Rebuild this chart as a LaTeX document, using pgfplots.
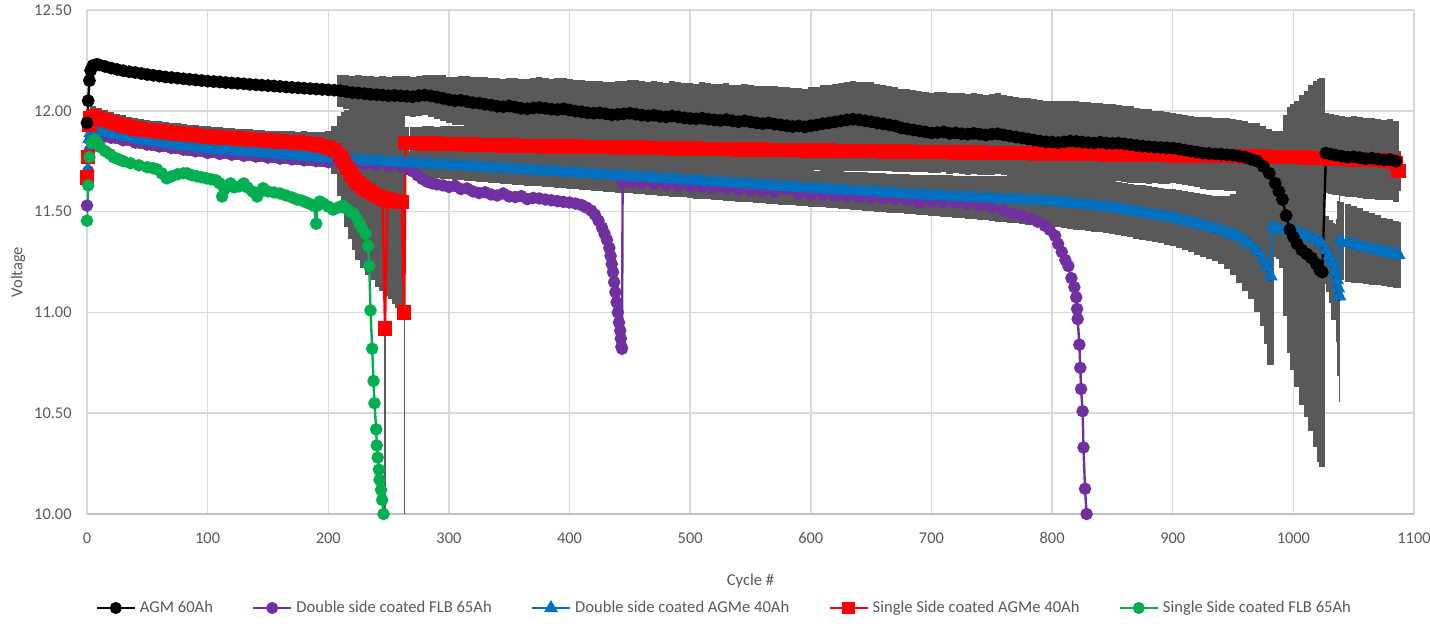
\documentclass[border=0pt]{standalone}
\usepackage{pgfplots}
\usepackage{pgfplotstable}
\usepackage{fontspec}
\setmainfont{Carlito}
\pgfplotsset{compat=1.18}
\definecolor{cblack}{HTML}{000000}
\definecolor{cpurple}{HTML}{7030A0}
\definecolor{cblue}{HTML}{0070C0}
\definecolor{cred}{HTML}{FF0000}
\definecolor{cgreen}{HTML}{00B050}
\definecolor{errgray}{HTML}{595959}
\definecolor{gridgray}{HTML}{D9D9D9}
\definecolor{axgray}{HTML}{BFBFBF}
\definecolor{txtgray}{HTML}{595959}

% AGM 60Ah: x, voltage, error (+/-)
\pgfplotstableread{
x y e
0 11.94 0
1 12.05 0
2 12.15 0
3 12.20 0
5 12.225 0
8 12.23 0
10 12.228 0
15 12.22 0
20 12.212 0
25 12.205 0
30 12.199 0
35 12.194 0
40 12.19 0
45 12.185 0
50 12.18 0
55 12.176 0
60 12.172 0
65 12.168 0
70 12.165 0
75 12.162 0
80 12.159 0
85 12.156 0
90 12.153 0
95 12.15 0
100 12.147 0
105 12.145 0
110 12.143 0
115 12.14 0
120 12.138 0
125 12.136 0
130 12.134 0
135 12.131 0
140 12.129 0
145 12.127 0
150 12.125 0
155 12.123 0
160 12.121 0
165 12.118 0
170 12.116 0
175 12.114 0
180 12.112 0
185 12.11 0
190 12.108 0
195 12.106 0
200 12.104 0
205 12.102 0
210 12.10 0.08
215 12.095 0.085
220 12.09 0.085
225 12.088 0.09
230 12.085 0.09
235 12.082 0.09
240 12.08 0.09
245 12.078 0.095
250 12.075 0.095
255 12.076 0.095
260 12.074 0.1
265 12.072 0.1
270 12.07 0.1
275 12.075 0.1
280 12.078 0.1
285 12.074 0.105
290 12.068 0.11
295 12.062 0.115
300 12.055 0.115
305 12.05 0.12
310 12.052 0.12
315 12.046 0.125
320 12.04 0.13
325 12.038 0.13
330 12.032 0.135
335 12.028 0.135
340 12.022 0.14
345 12.02 0.14
350 12.024 0.14
355 12.018 0.145
360 12.012 0.145
365 12.01 0.15
370 12.014 0.15
375 12.016 0.15
380 12.012 0.15
385 12.008 0.15
390 12.006 0.155
395 12.01 0.155
400 12.004 0.155
405 11.998 0.155
410 11.995 0.16
415 11.99 0.16
420 11.988 0.16
425 11.99 0.16
430 11.985 0.16
435 11.98 0.165
440 11.982 0.165
445 11.985 0.165
450 11.988 0.165
455 11.983 0.17
460 11.978 0.17
465 11.975 0.17
470 11.978 0.17
475 11.972 0.17
480 11.97 0.17
485 11.974 0.175
490 11.97 0.175
495 11.965 0.175
500 11.962 0.175
505 11.96 0.175
510 11.963 0.18
515 11.958 0.18
520 11.955 0.18
525 11.952 0.18
530 11.956 0.18
535 11.95 0.18
540 11.946 0.18
545 11.95 0.185
550 11.945 0.185
555 11.94 0.185
560 11.936 0.185
565 11.94 0.185
570 11.934 0.19
575 11.93 0.19
580 11.926 0.19
585 11.922 0.19
590 11.925 0.19
595 11.92 0.19
600 11.926 0.19
605 11.93 0.19
610 11.936 0.19
615 11.94 0.19
620 11.945 0.19
625 11.95 0.19
630 11.955 0.19
635 11.958 0.19
640 11.955 0.19
645 11.95 0.195
650 11.946 0.195
655 11.94 0.195
660 11.935 0.195
665 11.93 0.195
670 11.925 0.195
675 11.915 0.195
680 11.91 0.2
685 11.905 0.2
690 11.9 0.2
695 11.895 0.2
700 11.89 0.2
705 11.892 0.2
710 11.895 0.2
715 11.888 0.2
720 11.89 0.2
725 11.886 0.2
730 11.884 0.2
735 11.888 0.2
740 11.884 0.2
745 11.88 0.2
750 11.884 0.2
755 11.886 0.2
760 11.88 0.2
765 11.875 0.2
770 11.87 0.2
775 11.865 0.2
780 11.86 0.205
785 11.855 0.205
790 11.85 0.205
795 11.846 0.205
800 11.845 0.205
805 11.842 0.205
810 11.846 0.205
815 11.85 0.2
820 11.848 0.2
825 11.845 0.2
830 11.842 0.2
835 11.84 0.2
840 11.844 0.195
845 11.84 0.195
850 11.838 0.195
855 11.84 0.19
860 11.836 0.19
865 11.832 0.19
870 11.828 0.185
875 11.825 0.185
880 11.822 0.185
885 11.82 0.18
890 11.818 0.18
895 11.816 0.18
900 11.815 0.175
905 11.81 0.175
910 11.805 0.175
915 11.8 0.175
920 11.795 0.175
925 11.79 0.18
930 11.788 0.18
935 11.786 0.18
940 11.785 0.18
945 11.782 0.18
950 11.78 0.18
955 11.775 0.18
960 11.77 0.18
965 11.76 0.18
970 11.75 0.19
975 11.725 0.2
980 11.69 0.22
985 11.64 0.26
988 11.6 0.3
991 11.56 0.34
994 11.48 0.5
997 11.41 0.61
1000 11.375 0.66
1003 11.34 0.71
1007 11.31 0.77
1011 11.29 0.81
1015 11.27 0.86
1019 11.24 0.91
1022 11.21 0.95
1024 11.20 0.965
1027 11.79 0.2
1031 11.785 0.2
1035 11.78 0.2
1040 11.775 0.2
1045 11.77 0.2
1050 11.772 0.2
1055 11.768 0.2
1060 11.762 0.2
1065 11.765 0.2
1070 11.76 0.2
1075 11.756 0.2
1080 11.758 0.2
1085 11.75 0.2
}\blackT

% Single Side coated AGMe 40Ah
\pgfplotstableread{
x y e
0 11.67 0.02
1 11.77 0.02
2 11.93 0.03
3 11.965 0.04
5 11.975 0.05
10 11.965 0.05
15 11.955 0.05
20 11.945 0.05
25 11.935 0.05
30 11.927 0.05
35 11.92 0.05
40 11.913 0.05
45 11.908 0.05
50 11.904 0.05
55 11.9 0.05
60 11.897 0.05
65 11.894 0.05
70 11.891 0.05
75 11.888 0.05
80 11.885 0.05
85 11.882 0.05
90 11.879 0.05
95 11.876 0.05
100 11.873 0.05
105 11.87 0.05
110 11.868 0.05
115 11.866 0.05
120 11.864 0.05
125 11.862 0.05
130 11.86 0.05
135 11.858 0.05
140 11.856 0.05
145 11.854 0.05
150 11.852 0.05
155 11.85 0.05
160 11.848 0.05
165 11.846 0.055
170 11.844 0.055
175 11.842 0.055
180 11.839 0.06
185 11.836 0.06
190 11.832 0.065
195 11.826 0.07
200 11.818 0.08
205 11.805 0.12
210 11.775 0.2
213 11.745 0.25
216 11.715 0.29
219 11.685 0.32
222 11.66 0.35
225 11.64 0.38
229 11.62 0.4
233 11.605 0.42
237 11.59 0.43
241 11.578 0.45
245 11.565 0.46
247 10.92 0
249 11.56 0.48
252 11.555 0.49
255 11.552 0.51
258 11.55 0.53
261 11.548 0.55
263 11.00 0
264 11.84 0.08
270 11.84 0.08
275 11.839 0.08
280 11.838 0.085
285 11.838 0.085
290 11.837 0.085
295 11.836 0.09
300 11.835 0.09
305 11.834 0.09
310 11.834 0.09
315 11.833 0.09
320 11.832 0.095
325 11.831 0.095
330 11.831 0.095
335 11.83 0.095
340 11.829 0.1
345 11.828 0.1
350 11.828 0.1
355 11.827 0.1
360 11.826 0.1
365 11.825 0.1
370 11.825 0.1
375 11.824 0.1
380 11.823 0.1
385 11.822 0.1
390 11.822 0.1
395 11.821 0.1
400 11.822 0.1
405 11.822 0.1
410 11.821 0.1
415 11.821 0.1
420 11.820 0.1
425 11.820 0.1
430 11.819 0.1
435 11.819 0.1
440 11.818 0.1
445 11.818 0.1
450 11.817 0.1
455 11.817 0.1
460 11.817 0.1
465 11.816 0.1
470 11.816 0.1
475 11.815 0.1
480 11.815 0.1
485 11.814 0.1
490 11.814 0.1
495 11.813 0.1
500 11.813 0.1
505 11.813 0.1
510 11.812 0.1
515 11.812 0.1
520 11.811 0.1
525 11.811 0.1
530 11.810 0.1
535 11.810 0.1
540 11.809 0.1
545 11.809 0.1
550 11.809 0.1
555 11.808 0.1
560 11.808 0.1
565 11.807 0.1
570 11.807 0.1
575 11.806 0.1
580 11.806 0.1
585 11.805 0.1
590 11.805 0.1
595 11.804 0.1
600 11.804 0.1
605 11.804 0.1
610 11.803 0.1
615 11.803 0.1
620 11.802 0.1
625 11.802 0.1
630 11.802 0.1
635 11.801 0.1
640 11.801 0.1
645 11.800 0.1
650 11.800 0.1
655 11.800 0.1
660 11.799 0.1
665 11.799 0.1
670 11.798 0.1
675 11.798 0.1
680 11.798 0.1
685 11.797 0.1
690 11.797 0.1
695 11.796 0.1
700 11.796 0.1
705 11.796 0.1
710 11.795 0.1
715 11.795 0.1
720 11.794 0.1
725 11.794 0.1
730 11.794 0.1
735 11.793 0.1
740 11.793 0.1
745 11.792 0.1
750 11.792 0.1
755 11.792 0.1
760 11.791 0.1
765 11.791 0.1
770 11.790 0.1
775 11.790 0.1
780 11.790 0.1
785 11.789 0.1
790 11.789 0.1
795 11.788 0.1
800 11.788 0.1
805 11.788 0.1
810 11.787 0.1
815 11.787 0.1
820 11.786 0.1
825 11.786 0.1
830 11.785 0.1
835 11.785 0.1
840 11.785 0.1
845 11.784 0.1
850 11.784 0.1
855 11.783 0.1
860 11.783 0.1
865 11.782 0.1
870 11.782 0.1
875 11.781 0.1
880 11.781 0.1
885 11.781 0.1
890 11.780 0.1
895 11.780 0.1
900 11.779 0.1
905 11.779 0.1
910 11.778 0.1
915 11.778 0.1
920 11.778 0.1
925 11.777 0.1
930 11.777 0.1
935 11.776 0.1
940 11.776 0.1
945 11.775 0.1
950 11.775 0.1
955 11.775 0.1
960 11.774 0.1
965 11.774 0.1
970 11.773 0.1
975 11.773 0.1
980 11.772 0.1
985 11.772 0.1
990 11.772 0.1
995 11.771 0.1
1000 11.771 0.1
1005 11.770 0.1
1010 11.768 0.1
1015 11.767 0.1
1020 11.766 0.1
1025 11.765 0.1
1030 11.763 0.1
1035 11.762 0.1
1040 11.761 0.1
1045 11.760 0.1
1050 11.759 0.1
1055 11.758 0.1
1060 11.757 0.1
1065 11.756 0.1
1070 11.755 0.1
1075 11.754 0.1
1080 11.752 0.1
1083 11.748 0.1
1085 11.738 0.1
1087 11.70 0.1
}\redT

% Double side coated AGMe 40Ah
\pgfplotstableread{
x y e
0 11.70 0.03
1 11.78 0.03
2 11.86 0.035
3 11.89 0.04
5 11.905 0.045
10 11.900 0.045
15 11.893 0.045
20 11.886 0.045
25 11.880 0.045
30 11.874 0.045
35 11.868 0.045
40 11.862 0.045
45 11.857 0.045
50 11.852 0.045
55 11.847 0.045
60 11.843 0.045
65 11.839 0.045
70 11.835 0.045
75 11.831 0.045
80 11.827 0.045
85 11.823 0.045
90 11.819 0.045
95 11.815 0.045
100 11.811 0.045
105 11.809 0.045
110 11.806 0.045
115 11.804 0.045
120 11.802 0.045
125 11.799 0.045
130 11.797 0.045
135 11.795 0.045
140 11.793 0.045
145 11.790 0.045
150 11.788 0.045
155 11.786 0.045
160 11.783 0.045
165 11.781 0.045
170 11.779 0.045
175 11.776 0.045
180 11.774 0.045
185 11.772 0.045
190 11.770 0.045
195 11.767 0.045
200 11.765 0.045
205 11.763 0.05
210 11.761 0.05
215 11.760 0.05
220 11.758 0.05
225 11.756 0.052
230 11.754 0.054
235 11.753 0.055
240 11.751 0.056
245 11.749 0.057
250 11.747 0.058
255 11.746 0.059
260 11.744 0.06
265 11.742 0.06
270 11.740 0.062
275 11.739 0.064
280 11.737 0.065
285 11.735 0.066
290 11.733 0.067
295 11.732 0.068
300 11.730 0.07
305 11.728 0.07
310 11.726 0.071
315 11.725 0.072
320 11.723 0.072
325 11.721 0.073
330 11.719 0.073
335 11.717 0.074
340 11.715 0.074
345 11.714 0.075
350 11.712 0.075
355 11.710 0.076
360 11.708 0.076
365 11.706 0.077
370 11.704 0.078
375 11.703 0.078
380 11.701 0.079
385 11.699 0.079
390 11.697 0.08
395 11.695 0.08
400 11.693 0.081
405 11.692 0.081
410 11.690 0.082
415 11.688 0.082
420 11.686 0.083
425 11.684 0.083
430 11.682 0.084
435 11.681 0.084
440 11.679 0.085
445 11.677 0.085
450 11.675 0.085
455 11.673 0.085
460 11.671 0.086
465 11.669 0.086
470 11.667 0.086
475 11.665 0.086
480 11.663 0.087
485 11.661 0.087
490 11.659 0.087
495 11.657 0.087
500 11.655 0.088
505 11.653 0.088
510 11.651 0.088
515 11.649 0.088
520 11.647 0.088
525 11.645 0.088
530 11.643 0.089
535 11.641 0.089
540 11.639 0.089
545 11.637 0.089
550 11.635 0.089
555 11.633 0.089
560 11.631 0.09
565 11.629 0.09
570 11.627 0.09
575 11.625 0.09
580 11.623 0.09
585 11.621 0.09
590 11.619 0.09
595 11.617 0.09
600 11.615 0.09
605 11.613 0.09
610 11.612 0.091
615 11.610 0.092
620 11.608 0.092
625 11.606 0.093
630 11.605 0.093
635 11.603 0.094
640 11.601 0.094
645 11.599 0.095
650 11.598 0.095
655 11.596 0.096
660 11.594 0.096
665 11.592 0.097
670 11.591 0.097
675 11.589 0.098
680 11.587 0.098
685 11.585 0.099
690 11.584 0.099
695 11.582 0.1
700 11.580 0.1
705 11.579 0.101
710 11.577 0.103
715 11.576 0.104
720 11.574 0.105
725 11.573 0.106
730 11.571 0.108
735 11.570 0.109
740 11.568 0.11
745 11.567 0.111
750 11.565 0.113
755 11.564 0.114
760 11.562 0.115
765 11.561 0.116
770 11.559 0.118
775 11.558 0.119
780 11.556 0.12
785 11.555 0.121
790 11.553 0.123
795 11.552 0.124
800 11.550 0.125
805 11.547 0.125
810 11.544 0.126
815 11.541 0.126
820 11.538 0.127
825 11.535 0.127
830 11.532 0.128
835 11.529 0.128
840 11.526 0.129
845 11.523 0.129
850 11.520 0.13
855 11.515 0.131
860 11.510 0.132
865 11.505 0.133
870 11.500 0.134
875 11.495 0.135
880 11.490 0.136
885 11.485 0.137
890 11.480 0.138
895 11.475 0.139
900 11.470 0.14
905 11.463 0.143
910 11.455 0.146
915 11.448 0.15
920 11.440 0.153
925 11.432 0.156
930 11.424 0.16
935 11.416 0.163
940 11.408 0.168
945 11.397 0.18
950 11.386 0.2
955 11.375 0.23
960 11.355 0.25
965 11.335 0.27
970 11.302 0.3
975 11.262 0.33
978 11.225 0.38
981 11.180 0.44
983 11.425 0.15
988 11.415 0.15
993 11.408 0.15
998 11.402 0.15
1003 11.395 0.15
1008 11.385 0.15
1013 11.375 0.15
1018 11.362 0.15
1023 11.345 0.15
1027 11.31 0.17
1030 11.28 0.18
1032 11.245 0.2
1034 11.20 0.24
1036 11.16 0
1037 11.12 0
1038 11.08 0
1039 11.355 0.195
1045 11.345 0.193
1050 11.337 0.19
1055 11.33 0.186
1060 11.322 0.182
1065 11.315 0.178
1070 11.308 0.174
1075 11.30 0.17
1080 11.295 0.168
1085 11.288 0.165
1087 11.285 0.165
}\blueT

% thin error bars (single cycles)
\pgfplotstableread{
x y e
247 10.92 0.92
263 11.00 1.00
}\thinredT
\pgfplotstableread{
x y e
1036 11.16 0.28
1037 11.12 0.41
1038 11.08 0.50
}\thinblueT

% Double side coated FLB 65Ah
\pgfplotstableread{
x y
0 11.53
1 11.70
2 11.80
3 11.85
5 11.885
10 11.88
15 11.873
20 11.866
30 11.854
40 11.842
50 11.832
60 11.823
70 11.815
80 11.807
90 11.799
100 11.791
110 11.786
120 11.782
130 11.777
140 11.773
150 11.768
160 11.763
170 11.759
180 11.754
190 11.75
200 11.745
210 11.741
220 11.738
230 11.734
240 11.731
250 11.727
260 11.724
266 11.715
270 11.70
274 11.68
278 11.662
282 11.648
286 11.64
290 11.635
295 11.63
300 11.622
305 11.628
310 11.612
315 11.615
320 11.60
325 11.592
330 11.596
335 11.585
340 11.58
345 11.59
350 11.575
355 11.572
360 11.577
365 11.562
370 11.568
375 11.565
380 11.56
385 11.556
390 11.552
395 11.548
400 11.545
405 11.54
410 11.532
414 11.52
418 11.505
421 11.485
424 11.455
427 11.42
429 11.39
431 11.36
433 11.32
434 11.28
435 11.24
436 11.2
437 11.15
438 11.1
439 11.05
440 11.0
441 10.95
442 10.91
442.5 10.87
443 10.83
443.5 10.82
444 11.645
450 11.645
460 11.641
470 11.637
480 11.633
490 11.629
500 11.625
510 11.621
520 11.617
530 11.613
540 11.609
550 11.605
560 11.601
570 11.597
580 11.61
590 11.589
600 11.585
610 11.582
620 11.578
630 11.575
640 11.571
650 11.568
660 11.564
670 11.561
680 11.557
690 11.545
700 11.55
710 11.547
720 11.544
730 11.538
740 11.53
750 11.52
760 11.505
767 11.49
775 11.478
782 11.465
788 11.45
794 11.43
798 11.41
802.5 11.38
805 11.34
808 11.30
811 11.26
813.5 11.23
816 11.17
818.5 11.125
820 11.075
820.7 11.017
821.2 10.967
822.6 10.84
823.4 10.725
824 10.62
825.3 10.51
826 10.33
827.3 10.125
828.6 10.0
}\purpleT

% Single Side coated FLB 65Ah
\pgfplotstableread{
x y
0 11.455
1 11.63
2 11.77
4 11.84
6 11.856
8 11.845
11 11.82
15 11.80
19 11.785
22 11.77
26 11.76
30 11.75
36 11.74
43 11.73
50 11.72
55 11.715
58 11.71
62 11.69
66 11.665
70 11.675
75 11.685
80 11.69
83 11.69
87 11.68
91 11.675
95 11.67
99 11.665
103 11.66
107 11.655
110 11.64
112 11.575
114 11.61
117 11.63
119 11.64
122 11.62
126 11.625
130 11.64
133 11.62
137 11.60
141 11.575
144 11.6
146 11.616
150 11.60
155 11.595
160 11.59
165 11.58
170 11.57
174 11.56
178 11.555
182 11.545
186 11.535
188 11.53
190 11.44
191 11.53
193 11.55
196 11.54
200 11.525
204 11.51
208 11.52
212 11.53
215 11.515
218 11.50
221 11.49
224 11.465
226 11.44
228 11.415
231 11.39
233 11.33
234 11.23
235 11.01
236.4 10.82
237.5 10.66
238.3 10.55
239.7 10.42
240.2 10.34
241 10.28
242 10.22
242.5 10.17
243.8 10.12
244.7 10.07
245.8 10.0
}\greenT

\begin{document}
\begin{tikzpicture}
\useasboundingbox (-43.5pt,-54.5pt) rectangle (671.5pt,257pt);
\begin{axis}[
  at={(0pt,0pt)}, anchor=south west,
  scale only axis, width=663.5pt, height=252pt,
  xmin=0, xmax=1100, ymin=10, ymax=12.5,
  xtick={0,100,...,1100}, ytick={10,10.5,...,12.5},
  grid=major, major grid style={draw=gridgray, line width=0.75pt},
  axis x line*=bottom, axis y line*=left,
  x axis line style={draw=axgray, line width=1pt},
  y axis line style={draw=none},
  major tick length=0pt,
  /pgf/number format/assume math mode=true,
  tick label style={font=\fontsize{8.2}{9.8}\selectfont, text=txtgray},
  x tick label style={/pgf/number format/1000 sep={}, inner sep=0pt, anchor=north, yshift=-9pt},
  y tick label style={/pgf/number format/fixed, /pgf/number format/fixed zerofill, /pgf/number format/precision=2, inner sep=0pt, anchor=east, xshift=-7.5pt},
  xlabel={Cycle \#}, ylabel={Voltage},
  label style={font=\fontsize{8.3}{10}\selectfont, text=txtgray},
  xlabel style={at={(axis description cs:0.5,-0.133)}, anchor=center},
  ylabel style={at={(axis description cs:-0.052,0.48)}, anchor=center},
  legend style={at={(0.481,-0.1865)}, anchor=center, draw=none, fill=none,
    font=\fontsize{8.3}{10}\selectfont, text=txtgray, inner sep=0pt,
    /tikz/every even column/.append style={column sep=17.5pt}},
  legend columns=5,
  legend cell align=left,
  legend image code/.code={\draw[mark repeat=2,mark phase=2,#1] plot coordinates {(0pt,0pt) (9.5pt,0pt) (19pt,0pt)};},
]
% error bars (behind all series)
\addplot[forget plot, only marks, mark=none, error bars/.cd, y dir=both, y explicit, error mark=none,
  error bar style={draw=errgray, line width=3.1pt}] table[x=x, y=y, y error=e] {\blackT};
\addplot[forget plot, only marks, mark=none, error bars/.cd, y dir=both, y explicit, error mark=none,
  error bar style={draw=errgray, line width=3.1pt}] table[x=x, y=y, y error=e] {\redT};
\addplot[forget plot, only marks, mark=none, error bars/.cd, y dir=both, y explicit, error mark=none,
  error bar style={draw=errgray, line width=3.1pt}] table[x=x, y=y, y error=e] {\blueT};
\addplot[forget plot, only marks, mark=none, error bars/.cd, y dir=both, y explicit, error mark=none,
  error bar style={draw=errgray, line width=0.6pt}] table[x=x, y=y, y error=e] {\thinredT};
\addplot[forget plot, only marks, mark=none, error bars/.cd, y dir=both, y explicit, error mark=-,
  error mark options={errgray, line width=0.6pt, mark size=2.5pt},
  error bar style={draw=errgray, line width=0.6pt}] table[x=x, y=y, y error=e] {\thinblueT};
% series
\addplot[forget plot, cpurple, line width=1.2pt, mark=*, mark size=2.5pt, mark options={solid, fill=cpurple, draw=cpurple}] table[x=x, y=y] {\purpleT};
\addplot[forget plot, cblue, line width=1.2pt, mark=triangle*, mark size=3pt, mark options={solid, fill=cblue, draw=cblue}] table[x=x, y=y] {\blueT};
\addplot[forget plot, cred, line width=1.2pt, mark=square*, mark size=3pt, mark options={solid, fill=cred, draw=cred}] table[x=x, y=y] {\redT};
\addplot[forget plot, cgreen, line width=1.2pt, mark=*, mark size=2.5pt, mark options={solid, fill=cgreen, draw=cgreen}] table[x=x, y=y] {\greenT};
\addplot[forget plot, cblack, line width=1.2pt, mark=*, mark size=2.6pt, mark options={solid, fill=cblack, draw=cblack}] table[x=x, y=y] {\blackT};
% legend
\addlegendimage{cblack, line width=1.2pt, mark=*, mark size=2.4pt, mark options={solid, fill=cblack}}
\addlegendentry{AGM 60Ah}
\addlegendimage{cpurple, line width=1.2pt, mark=*, mark size=2.4pt, mark options={solid, fill=cpurple}}
\addlegendentry{Double side coated FLB 65Ah}
\addlegendimage{cblue, line width=1.2pt, mark=triangle*, mark size=2.8pt, mark options={solid, fill=cblue}}
\addlegendentry{Double side coated AGMe 40Ah}
\addlegendimage{cred, line width=1.2pt, mark=square*, mark size=2.6pt, mark options={solid, fill=cred}}
\addlegendentry{Single Side coated AGMe 40Ah}
\addlegendimage{cgreen, line width=1.2pt, mark=*, mark size=2.4pt, mark options={solid, fill=cgreen}}
\addlegendentry{Single Side coated FLB 65Ah}
\end{axis}
\end{tikzpicture}
\end{document}
